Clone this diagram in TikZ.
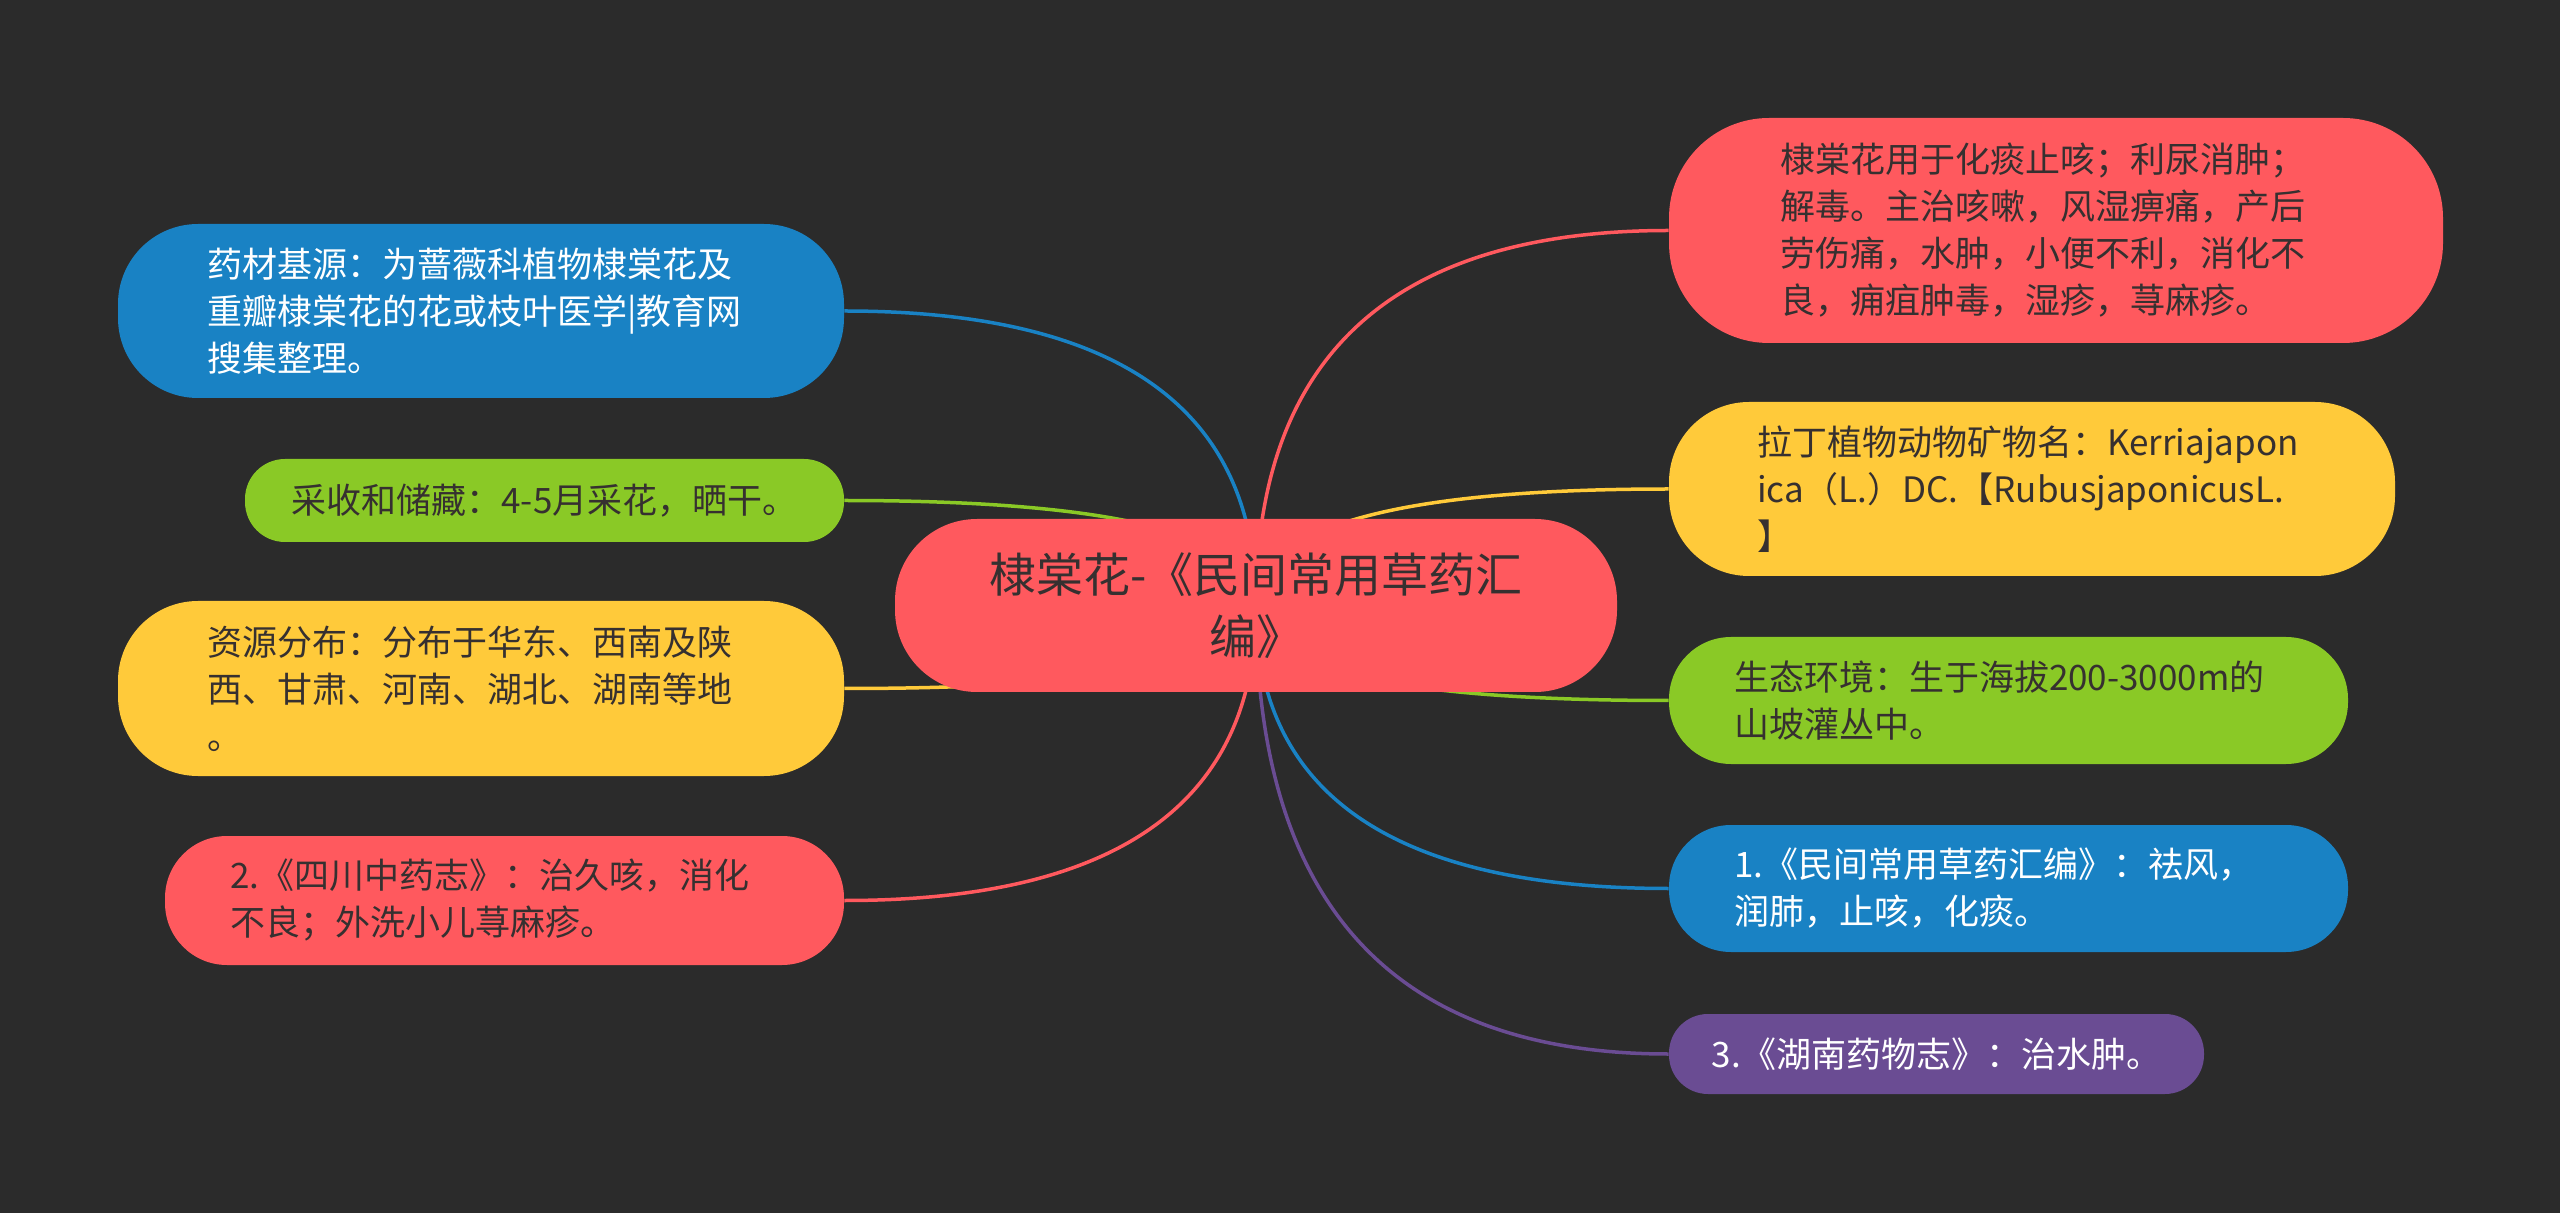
\documentclass[tikz,border=0pt]{standalone}
\usepackage{fontspec}
\setmainfont{Noto Sans CJK SC}
\usepackage{xcolor}
\usepackage{tikz}
\usetikzlibrary{calc}
\definecolor{pagebg}{HTML}{2B2B2B}
\definecolor{mmred}{HTML}{FF595E}
\definecolor{mmyellow}{HTML}{FFCA3A}
\definecolor{mmgreen}{HTML}{8AC926}
\definecolor{mmblue}{HTML}{1982C4}
\definecolor{mmpurple}{HTML}{6A4C93}
\definecolor{darktxt}{HTML}{363030}
\pgfdeclarelayer{bg}
\pgfdeclarelayer{links}
\pgfsetlayers{bg,links,main}

\begin{document}
\begin{tikzpicture}[
    x=0.5pt, y=-0.5pt,
    topic/.style={rectangle, fill=mmred, text=darktxt, rounded corners=41pt,
                  minimum width=361pt, minimum height=86.5pt, align=center,
                  font={\fontsize{23.5pt}{31pt}\selectfont}},
    leaf/.style={rectangle, align=left, inner ysep=0pt,
                 font={\fontsize{17.5pt}{23.5pt}\selectfont}},
    link/.style={line width=1.75pt, draw=#1}
]
    \begin{pgfonlayer}{bg}
        \fill[pagebg] (0,0) rectangle (2560,1213);
    \end{pgfonlayer}

    \node[topic] (root) at (1256,605.5) {棣棠花-《民间常用草药汇\\编》};

    % left side
    \node[leaf, fill=mmblue, text=white, rounded corners=40pt, minimum height=87pt,
          text width=274pt, inner xsep=44.5pt] (medsrc) at (481,311)
          {药材基源：为蔷薇科植物棣棠花及\\重瓣棣棠花的花或枝叶医学|教育网\\搜集整理。};
    \node[leaf, fill=mmgreen, text=darktxt, rounded corners=20pt, minimum width=299.5pt,
          minimum height=41.5pt] (harvest) at (544.5,500.5)
          {采收和储藏：4-5月采花，晒干。};
    \node[leaf, fill=mmyellow, text=darktxt, rounded corners=40pt, minimum height=87.5pt,
          text width=274pt, inner xsep=44.5pt] (distrib) at (481,688.5)
          {资源分布：分布于华东、西南及陕\\西、甘肃、河南、湖北、湖南等地\\。};
    \node[leaf, fill=mmred, text=darktxt, rounded corners=31pt, minimum height=64.5pt,
          text width=274.5pt, inner xsep=32.5pt] (sichuan) at (504.5,900.5)
          {2.《四川中药志》：治久咳，消化\\不良；外洗小儿荨麻疹。};

    % right side
    \node[leaf, fill=mmred, text=darktxt, rounded corners=50pt, minimum height=112.5pt,
          text width=276pt, inner xsep=55.5pt] (usage) at (2056,230.5)
          {棣棠花用于化痰止咳；利尿消肿；\\解毒。主治咳嗽，风湿痹痛，产后\\劳伤痛，水肿，小便不利，消化不\\良，痈疽肿毒，湿疹，荨麻疹。};
    \node[leaf, fill=mmyellow, text=darktxt, rounded corners=40pt, minimum height=87pt,
          text width=275pt, inner xsep=44pt] (latin) at (2032,489)
          {拉丁植物动物矿物名：Kerriajapon\\ica（L.）DC.【RubusjaponicusL.\\】};
    \node[leaf, fill=mmgreen, text=darktxt, rounded corners=31pt, minimum height=63.5pt,
          text width=274.5pt, inner xsep=32.5pt] (habitat) at (2008.5,700.5)
          {生态环境：生于海拔200-3000m的\\山坡灌丛中。};
    \node[leaf, fill=mmblue, text=white, rounded corners=31pt, minimum height=63.5pt,
          text width=274.5pt, inner xsep=32.5pt] (minjian) at (2008.5,888.5)
          {1.《民间常用草药汇编》：祛风，\\润肺，止咳，化痰。};
    \node[leaf, fill=mmpurple, text=white, rounded corners=19.5pt, minimum width=267.5pt,
          minimum height=40pt] (hunan) at (1936.5,1054)
          {3.《湖南药物志》：治水肿。};

    \begin{pgfonlayer}{links}
        \foreach \n/\a/\c in {medsrc/east/mmblue, harvest/east/mmgreen,
                              distrib/east/mmyellow, sichuan/east/mmred,
                              usage/west/mmred, latin/west/mmyellow,
                              habitat/west/mmgreen, minjian/west/mmblue,
                              hunan/west/mmpurple}
            \draw[link=\c] (root.center)
                .. controls ($(root.center)!2/3!(root.center |- \n.\a)$)
                and ($(\n.\a)!2/3!(root.center |- \n.\a)$) .. (\n.\a);
    \end{pgfonlayer}
\end{tikzpicture}
\end{document}
